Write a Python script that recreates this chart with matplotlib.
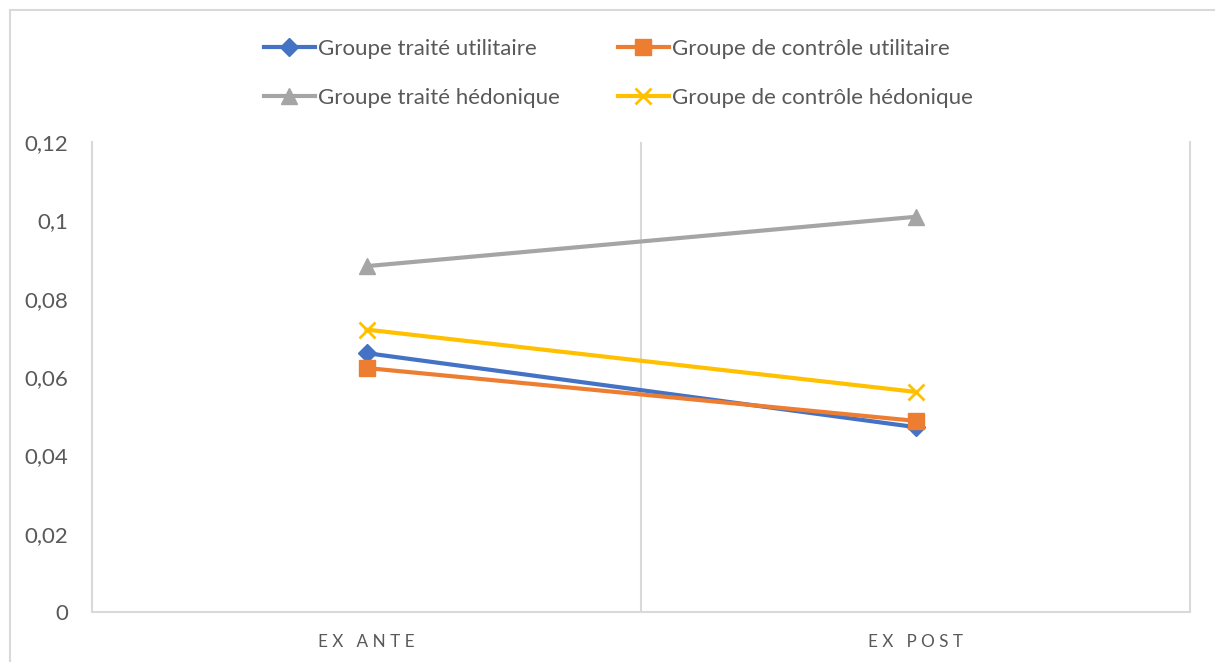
import matplotlib
matplotlib.use("Agg")
import matplotlib.pyplot as plt
from matplotlib.patches import Rectangle

plt.rcParams['font.family'] = ['Lato', 'DejaVu Sans']

categories = ["EX ANTE", "EX POST"]
traite_utilitaire = [0.0661, 0.0472]
controle_utilitaire = [0.0623, 0.0488]
traite_hedonique = [0.0883, 0.1009]
controle_hedonique = [0.0721, 0.0562]
yticks = [0, 0.02, 0.04, 0.06, 0.08, 0.1, 0.12]
ytick_labels = ["0", "0,02", "0,04", "0,06", "0,08", "0,1", "0,12"]

fig = plt.figure(figsize=(12.15, 6.62), dpi=100)
ax = fig.add_axes([92/1215, 1-612/662, (1190-92)/1215, (612-142)/662])

x = list(range(len(categories)))
lw = 3
h1, = ax.plot(x, traite_utilitaire, color="#4472C4", lw=lw, marker="D", ms=9, label="Groupe traité utilitaire", zorder=3)
h2, = ax.plot(x, controle_utilitaire, color="#ED7D31", lw=lw, marker="s", ms=11, label="Groupe de contrôle utilitaire", zorder=4)
h3, = ax.plot(x, traite_hedonique, color="#A5A5A5", lw=lw, marker="^", ms=12, label="Groupe traité hédonique", zorder=3)
h4, = ax.plot(x, controle_hedonique, color="#FFC000", lw=lw, marker="x", ms=11, mew=2, label="Groupe de contrôle hédonique", zorder=3)

ax.set_xlim(-0.5, 1.5)
ax.set_ylim(0, 0.12)
ax.set_yticks(yticks)
ax.set_yticklabels(ytick_labels, fontsize=16, color="#595959")
ax.set_xticks(x)
ax.set_xticklabels([" ".join(c) for c in categories], fontsize=12.3, color="#595959")
ax.tick_params(axis='both', length=0)
ax.tick_params(axis='y', pad=17)
ax.tick_params(axis='x', pad=16)

grid_c = "#D9D9D9"
ax.spines["top"].set_visible(False)
for s in ["left", "right", "bottom"]:
    ax.spines[s].set_color(grid_c)
    ax.spines[s].set_linewidth(1.5)
ax.axvline(0.5, color=grid_c, lw=1.5, zorder=1)

handles = [h1, h3, h2, h4]
fig.legend(handles=handles, labels=[h.get_label() for h in handles],
           loc="upper center", bbox_to_anchor=((607.5 + 11) / 1215, 1 - 39/662), ncol=2, frameon=False,
           fontsize=16, handlelength=2.3, handletextpad=0.15, columnspacing=2.6,
           labelcolor="#595959", labelspacing=1.3, borderaxespad=0, borderpad=0)

fig.add_artist(Rectangle((10/1215, -0.1), 1.2, 1 - 10/662 + 0.1, transform=fig.transFigure,
                         fill=False, edgecolor=grid_c, lw=1.5))

fig.savefig("out.png", dpi=100)
